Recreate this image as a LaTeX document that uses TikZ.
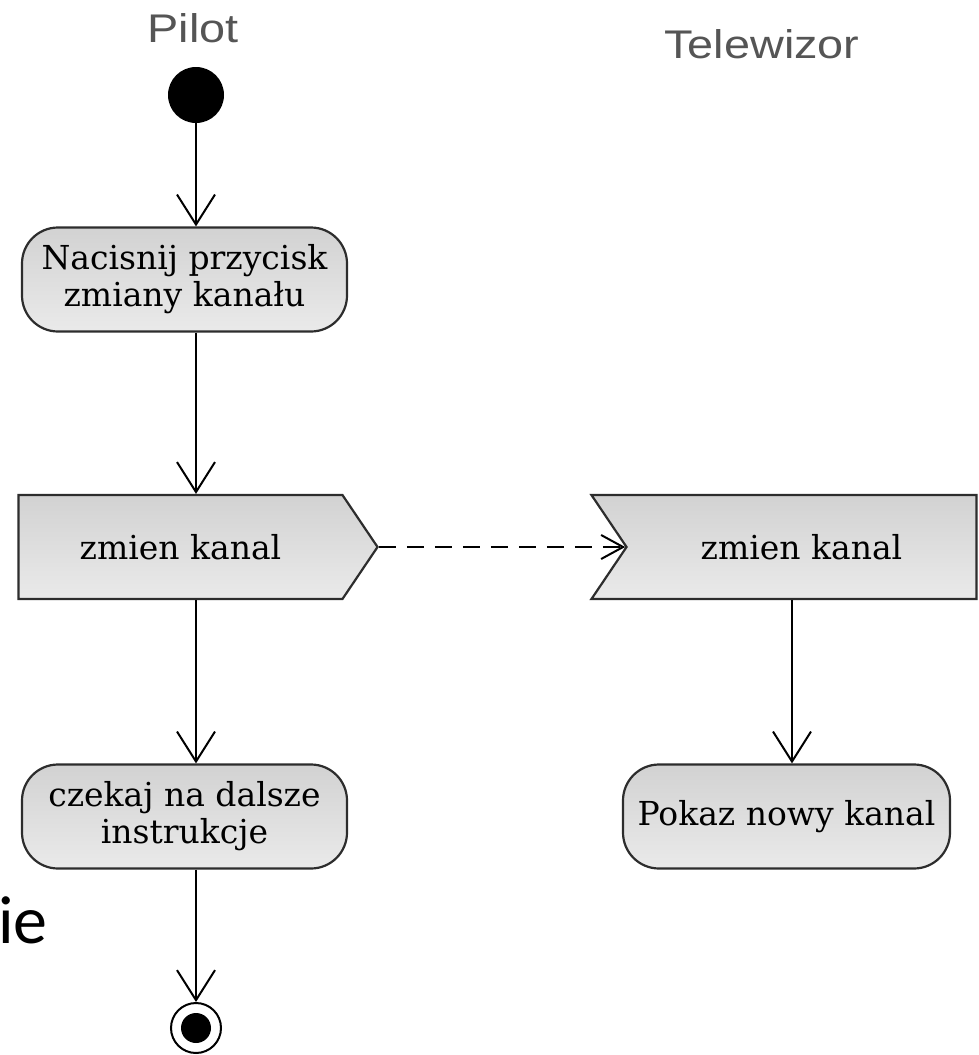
\documentclass[tikz,border=0pt]{standalone}
\usepackage{fontspec}
\usepackage{tikz}
\usetikzlibrary{arrows.meta,shapes.symbols}

\newfontfamily\boxfont{DejaVu Serif}
\newfontfamily\lanefont[FakeStretch=1.17]{Liberation Sans}
\newfontfamily\slidefont{Carlito}
\definecolor{boxtop}{RGB}{210,210,210}
\definecolor{boxbot}{RGB}{234,234,234}
\definecolor{edge}{RGB}{45,45,45}
\definecolor{lanegray}{RGB}{85,85,85}

\tikzset{
  action/.style={rectangle, rounded corners=36pt, draw=edge, line width=2.2pt,
    top color=boxtop, bottom color=boxbot, minimum height=104pt,
    align=center, inner sep=0pt, font={\boxfont\fontsize{33}{37}\selectfont}},
  sendsig/.style={action, rounded corners=0pt, signal, signal to=east,
    signal pointer angle=112},
  recvsig/.style={action, rounded corners=0pt, signal, signal from=west,
    signal to=nowhere, signal pointer angle=112},
  flow/.style={line width=2pt, -{Straight Barb[length=30pt,width=38pt]}},
  lanetitle/.style={anchor=base, text=lanegray, inner sep=0pt,
    font={\lanefont\fontsize{40}{44}\selectfont}},
}

\begin{document}
\begin{tikzpicture}[x=1pt, y=-1pt]
  \useasboundingbox (0,0) rectangle (979,1055);
  % swimlane titles
  \node[lanetitle] (pilot) at (193,42) {Pilot};
  \node[lanetitle] (tv) at (762,58) {Telewizor};
  % pilot lane
  \node[circle, fill=black, minimum size=56pt, inner sep=0pt] (start) at (196,95) {};
  \node[action, minimum width=325pt] (press) at (184.5,279.5) {Nacisnij przycisk\\zmiany kanału};
  \node[sendsig, minimum width=359pt] (send) at (180.5,547) {zmien kanal};
  \node[action, minimum width=325pt] (wait) at (184.5,816.5) {czekaj na dalsze\\instrukcje};
  \node[circle, draw=black, line width=2pt, minimum size=50pt, inner sep=0pt] (stop) at (196,1028) {};
  \node[circle, fill=black, minimum size=30pt, inner sep=0pt] (stopdot) at (stop) {};
  % telewizor lane
  \node[recvsig, minimum width=385pt] (recv) at (801.5,547) {zmien kanal};
  \node[action, minimum width=327pt] (show) at (786.5,816.5) {Pokaz nowy kanal};
  % connectors
  \draw[flow] (start) -- (start |- press.north);
  \draw[flow] (press.south -| start) -- (start |- send.north);
  \draw[flow] (send.south -| start) -- (start |- wait.north);
  \draw[flow] (wait.south -| stop) -- (stop);
  \draw[line width=2pt, dash pattern=on 17pt off 11pt,
    -{Straight Barb[length=22pt,width=24pt]}] (send.east) -- (recv.west);
  \coordinate (tvline) at (792,0);
  \draw[flow] (recv.south -| tvline) -- (tvline |- show.north);
  % leftover slide text
  \node[anchor=base east, inner sep=0pt, font={\slidefont\fontsize{68}{72}\selectfont}] (frag) at (48,943) {ie};
\end{tikzpicture}
\end{document}
